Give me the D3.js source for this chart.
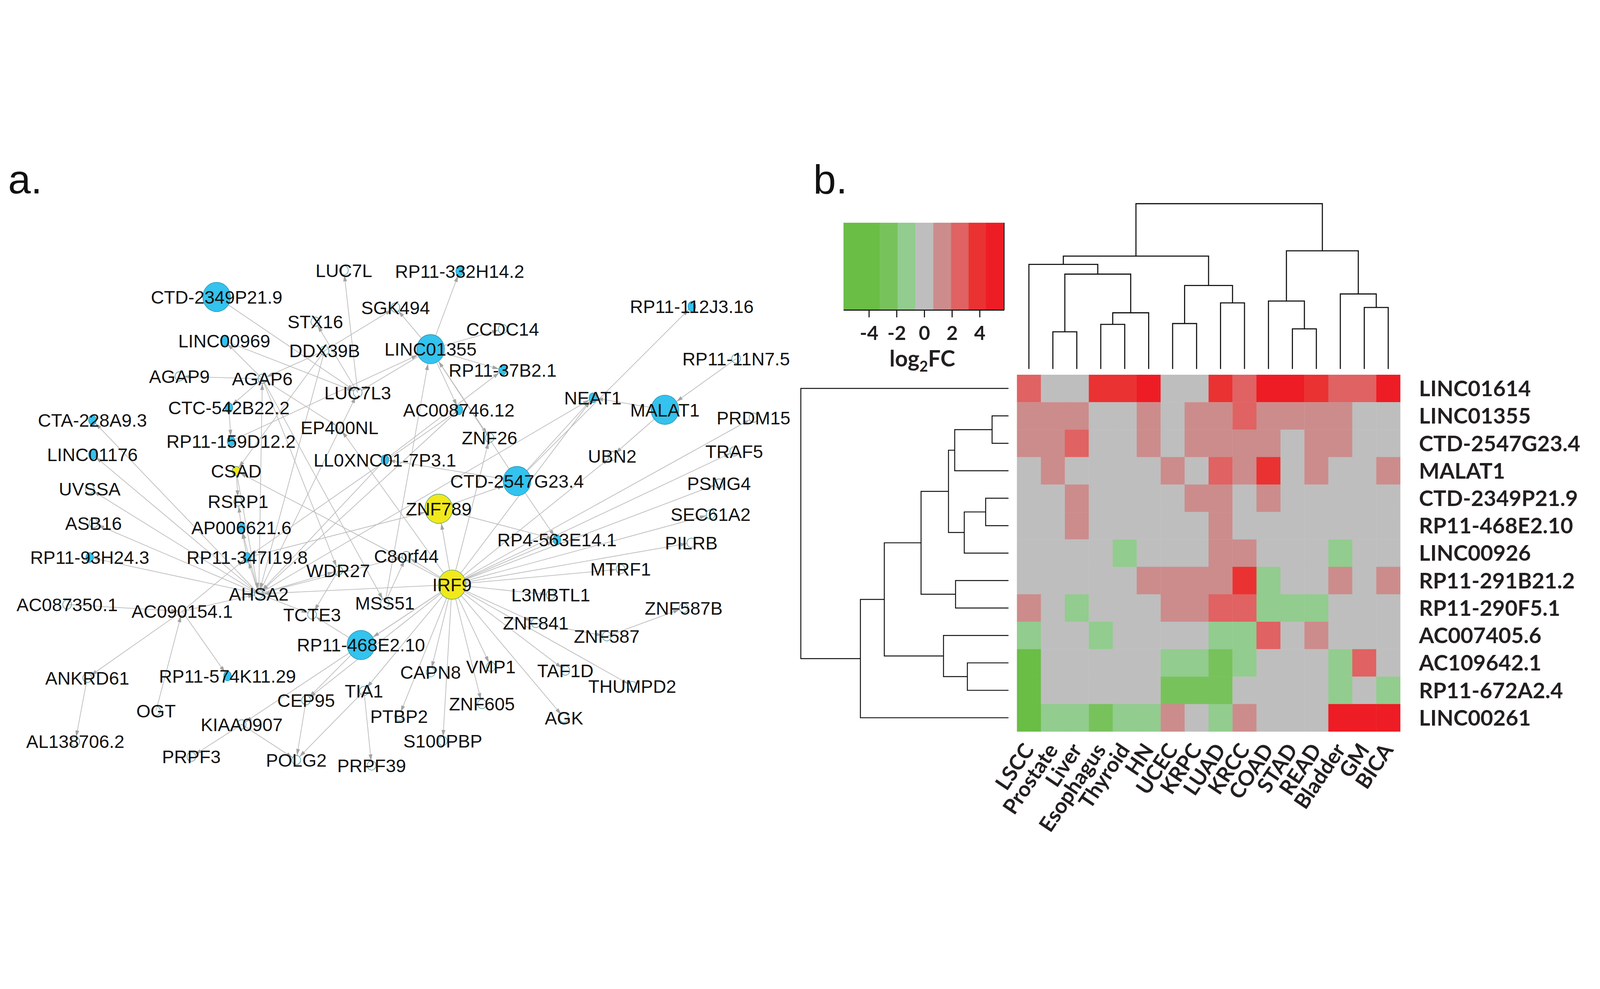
<!DOCTYPE html>
<html>
<head>
<meta charset="utf-8">
<script src="https://cdn.jsdelivr.net/npm/d3@7"></script>
<style>
  html, body { margin: 0; padding: 0; width: 100%; height: 100%; background: #fff; overflow: hidden; }
  svg { display: block; width: 100vw; height: 100vh; }
  .net text { font-family: "Liberation Sans", Arial, sans-serif; font-size: 67px; fill: #111; }
  .hm text { font-family: Lato, "Open Sans", sans-serif; font-weight: bold; fill: #231f20; }
  .panel { font-family: "Liberation Sans", Arial, sans-serif; font-size: 150px; fill: #111; }
</style>
</head>
<body>
<svg id="fig" viewBox="0 0 5886 2531" preserveAspectRatio="xMidYMid meet"></svg>
<script>
// ---------- panel a : co-expression network ----------
const bigLnc = ["CTD-2349P21.9", "LINC01355", "MALAT1", "CTD-2547G23.4", "RP11-468E2.10"];
const bigTf = ["ZNF789", "IRF9"];
const smallLnc = ["LINC00969", "CTC-542B22.2", "CTA-228A9.3", "RP11-159D12.2", "LINC01176", "LL0XNC01-7P3.1",
  "AP006621.6", "RP11-93H24.3", "RP11-347I19.8", "RP11-574K11.29", "RP11-332H14.2", "RP11-112J3.16",
  "RP11-37B2.1", "NEAT1", "AC008746.12", "RP4-563E14.1"];
const smallTf = ["CSAD"];

// layout coordinates (network layout units)
const nodeNames = ["CTD-2349P21.9", "LINC01355", "MALAT1", "CTD-2547G23.4", "RP11-468E2.10",
  "ZNF789", "IRF9",
  "LINC00969", "CTC-542B22.2", "CTA-228A9.3", "RP11-159D12.2", "LINC01176", "LL0XNC01-7P3.1", "AP006621.6",
  "RP11-93H24.3", "RP11-347I19.8", "RP11-574K11.29", "RP11-332H14.2", "RP11-112J3.16", "RP11-37B2.1", "NEAT1",
  "AC008746.12", "RP4-563E14.1",
  "CSAD",
  "LUC7L", "STX16", "SGK494", "DDX39B", "AGAP9", "AGAP6", "LUC7L3", "EP400NL", "CCDC14", "RP11-11N7.5",
  "PRDM15", "ZNF26", "UBN2", "TRAF5", "PSMG4", "SEC61A2", "PILRB", "C8orf44", "MTRF1", "L3MBTL1",
  "ZNF587B", "ZNF841", "ZNF587", "CAPN8", "VMP1", "TAF1D", "THUMPD2", "ZNF605", "UVSSA", "RSRP1",
  "ASB16", "WDR27", "AHSA2", "MSS51", "AC087350.1", "AC090154.1", "TCTE3", "ANKRD61", "TIA1", "CEP95",
  "OGT", "KIAA0907", "PTBP2", "S100PBP", "AGK", "AL138706.2", "PRPF3", "POLG2", "PRPF39"];
const nodeX = [79.7, 158.4, 244.6, 190.2, 132.8,
  161.4, 166.3,
  82.5, 84.2, 34.0, 85.0, 34.0, 141.6, 88.8, 33.0, 90.9, 83.7, 169.1, 254.5, 184.9, 218.1, 168.8, 204.9,
  86.9,
  126.5, 116.0, 145.5, 119.4, 66.0, 96.5, 131.6, 124.9, 184.9, 270.8,
  277.2, 180.1, 225.2, 270.1, 264.5, 261.4, 254.3, 149.5, 228.3, 202.6,
  251.5, 197.1, 223.2, 158.4, 180.6, 208.0, 232.6, 177.3, 33.0, 87.6,
  34.4, 124.4, 95.2, 141.6, 24.7, 67.0, 114.8, 32.1, 133.9, 112.6,
  57.4, 88.9, 146.8, 162.9, 207.5, 27.7, 70.4, 109.0, 136.7];
const nodeY = [53.9, 73.1, 95.4, 121.6, 181.9,
  131.8, 159.7,
  70.0, 94.6, 99.2, 106.9, 111.8, 113.8, 138.7, 149.7, 149.7, 193.3, 44.4, 57.4, 80.8, 91.0, 95.4, 143.2,
  117.9,
  44.1, 63.0, 57.8, 73.7, 83.1, 84.0, 89.1, 102.0, 65.7, 76.6,
  98.3, 105.7, 112.4, 110.7, 122.5, 133.9, 144.3, 149.2, 154.0, 163.5,
  168.3, 173.8, 178.7, 191.9, 189.9, 191.3, 197.0, 203.6, 124.5, 129.1,
  137.1, 154.6, 163.1, 166.5, 167.0, 169.5, 170.7, 194.0, 198.8, 202.2,
  206.1, 211.1, 208.1, 217.2, 208.7, 217.4, 223.0, 224.2, 226.2];

const edges = [
  ["AHSA2", "CTA-228A9.3"], ["AHSA2", "LINC01176"], ["AHSA2", "UVSSA"], ["AHSA2", "ASB16"],
  ["AHSA2", "RP11-93H24.3"], ["AC090154.1", "AHSA2"], ["AHSA2", "TCTE3"], ["AHSA2", "RP11-347I19.8"],
  ["AHSA2", "AP006621.6"], ["CSAD", "AHSA2"], ["AHSA2", "AGAP6"], ["LL0XNC01-7P3.1", "AHSA2"],
  ["DDX39B", "AHSA2"], ["AHSA2", "LUC7L3"], ["AHSA2", "WDR27"], ["AHSA2", "C8orf44"], ["IRF9", "AHSA2"],
  ["AHSA2", "NEAT1"], ["AC008746.12", "RP11-347I19.8"], ["AC008746.12", "AHSA2"],
  ["AC087350.1", "AC090154.1"], ["AC090154.1", "RP11-347I19.8"], ["AC090154.1", "ANKRD61"],
  ["OGT", "AC090154.1"], ["AC090154.1", "RP11-574K11.29"], ["ANKRD61", "AL138706.2"],
  ["WDR27", "TCTE3"], ["RP11-468E2.10", "TCTE3"], ["AGAP6", "WDR27"], ["AGAP6", "MSS51"],
  ["AGAP6", "EP400NL"], ["AGAP6", "LINC00969"], ["AGAP6", "AGAP9"], ["AGAP6", "CTC-542B22.2"],
  ["CTC-542B22.2", "RP11-159D12.2"], ["DDX39B", "AGAP6"], ["DDX39B", "SGK494"], ["DDX39B", "CSAD"],
  ["LUC7L3", "STX16"], ["LUC7L3", "LUC7L"], ["CTD-2349P21.9", "LUC7L3"], ["LINC00969", "LUC7L3"],
  ["LINC01355", "LUC7L3"], ["RP11-159D12.2", "LINC01355"], ["LINC01355", "SGK494"],
  ["LINC01355", "RP11-332H14.2"], ["LINC01355", "CCDC14"], ["LINC01355", "RP11-37B2.1"],
  ["LINC01355", "AC008746.12"], ["LINC01355", "ZNF26"], ["MSS51", "LINC01355"],
  ["CTD-2547G23.4", "LINC01355"], ["CSAD", "RSRP1"], ["AP006621.6", "RSRP1"],
  ["RP11-347I19.8", "AP006621.6"], ["IRF9", "CSAD"], ["IRF9", "EP400NL"],
  ["LL0XNC01-7P3.1", "RP11-37B2.1"], ["CTD-2547G23.4", "LL0XNC01-7P3.1"], ["CTD-2547G23.4", "NEAT1"],
  ["CTD-2547G23.4", "RP11-112J3.16"], ["CTD-2547G23.4", "RP4-563E14.1"], ["MALAT1", "NEAT1"],
  ["MALAT1", "UBN2"], ["RP11-11N7.5", "MALAT1"], ["IRF9", "ZNF789"], ["ZNF789", "RP4-563E14.1"],
  ["ZNF789", "CTD-2547G23.4"], ["RP11-347I19.8", "ZNF789"], ["IRF9", "ZNF26"], ["IRF9", "C8orf44"],
  ["MSS51", "C8orf44"], ["IRF9", "PSMG4"], ["IRF9", "SEC61A2"], ["IRF9", "PILRB"], ["IRF9", "MTRF1"],
  ["IRF9", "L3MBTL1"], ["IRF9", "ZNF841"], ["ZNF841", "ZNF587"], ["ZNF587", "ZNF587B"],
  ["IRF9", "TAF1D"], ["IRF9", "THUMPD2"], ["IRF9", "AGK"], ["IRF9", "ZNF605"], ["IRF9", "VMP1"],
  ["IRF9", "CAPN8"], ["IRF9", "PTBP2"], ["IRF9", "S100PBP"], ["IRF9", "TIA1"], ["IRF9", "CEP95"],
  ["IRF9", "KIAA0907"], ["IRF9", "UBN2"], ["IRF9", "PRDM15"], ["IRF9", "TRAF5"],
  ["IRF9", "RP4-563E14.1"], ["IRF9", "NEAT1"], ["IRF9", "RP11-468E2.10"], ["TIA1", "POLG2"],
  ["TIA1", "PRPF39"], ["CEP95", "POLG2"], ["RP11-468E2.10", "CEP95"], ["KIAA0907", "PRPF3"],
  ["KIAA0907", "POLG2"]
];

// ---------- panel b : heatmap ----------
const cancers = ["LSCC", "Prostate", "Liver", "Esophagus", "Thyroid", "HN", "UCEC", "KRPC", "LUAD",
  "KRCC", "COAD", "STAD", "READ", "Bladder", "GM", "BICA"];
const lncRNAs = ["LINC01614", "LINC01355", "CTD-2547G23.4", "MALAT1", "CTD-2349P21.9", "RP11-468E2.10",
  "LINC00926", "RP11-291B21.2", "RP11-290F5.1", "AC007405.6", "AC109642.1", "RP11-672A2.4", "LINC00261"];
const log2fc = [
  [2.6, 0, 0, 3.8, 3.8, 5.0, 0, 0, 3.8, 2.6, 5.0, 5.0, 3.8, 2.6, 2.6, 5.0],
  [1.3, 1.3, 1.3, 0, 0, 1.3, 0, 1.3, 1.3, 2.6, 1.3, 1.3, 1.3, 1.3, 0, 0],
  [1.3, 1.3, 2.6, 0, 0, 1.3, 0, 1.3, 1.3, 1.3, 1.3, 0, 1.3, 1.3, 0, 0],
  [0, 1.3, 0, 0, 0, 0, 1.3, 0, 2.6, 1.3, 3.8, 0, 1.3, 0, 0, 1.3],
  [0, 0, 1.3, 0, 0, 0, 0, 1.3, 1.3, 0, 1.3, 0, 0, 0, 0, 0],
  [0, 0, 1.3, 0, 0, 0, 0, 0, 1.3, 0, 0, 0, 0, 0, 0, 0],
  [0, 0, 0, 0, -1.3, 0, 0, 0, 1.3, 1.3, 0, 0, 0, -1.3, 0, 0],
  [0, 0, 0, 0, 0, 1.3, 1.3, 1.3, 1.3, 3.8, -1.3, 0, 0, 1.3, 0, 1.3],
  [1.3, 0, -1.3, 0, 0, 0, 1.3, 1.3, 2.6, 2.6, -1.3, -1.3, -1.3, 0, 0, 0],
  [-1.3, 0, 0, -1.3, 0, 0, 0, 0, -1.3, -1.3, 2.6, 0, 1.3, 0, 0, 0],
  [-4.8, 0, 0, 0, 0, 0, -1.3, -1.3, -2.6, -1.3, 0, 0, 0, -1.3, 2.6, 0],
  [-4.8, 0, 0, 0, 0, 0, -2.6, -2.6, -2.6, 0, 0, 0, 0, -1.3, 0, -1.3],
  [-4.8, -1.3, -1.3, -2.6, -1.3, -1.3, 1.3, 0, -1.3, 1.3, 0, 0, 0, 5.0, 5.0, 5.0]
];
// hierarchical clustering, hclust style: negative = leaf (1-based), positive = earlier merge step
const colMerge = [[-2, -3], [-12, -13], [-4, -5], [-7, -8], [3, -6], [-15, -16], [-9, -10], [-11, 2],
  [-14, 6], [4, 7], [1, 5], [-1, 11], [12, 10], [8, 9], [13, 14]];
const colHeight = [2.25, 2.43, 2.70, 2.75, 3.40, 3.72, 4.00, 4.11, 4.54, 5.05, 5.74, 6.33, 6.83, 7.15, 10];
const rowMerge = [[-2, -3], [-5, -6], [-11, -12], [2, -7], [-8, -9], [1, -4], [6, 4], [-10, 3], [7, 5],
  [9, 8], [10, -13], [-1, 11]];
const rowHeight = [0.79, 1.10, 1.98, 2.13, 2.55, 2.59, 2.89, 3.13, 4.21, 5.98, 7.13, 10];

const fcBreaks = [-3.23, -1.93, -0.65, 0.65, 1.93, 3.2, 4.45];
const fcColors = ["#6abd45", "#78c25c", "#92cc8e", "#bebebe", "#cc8c8c", "#e06262", "#ea3232", "#ee1c25"];
const fcTicks = [-4, -2, 0, 2, 4];
const fcRange = [-5.84, 5.77];

const svg = d3.select("#fig");

svg.append("text").attr("class", "panel").attr("x", 30).attr("y", 158).text("a.");
svg.append("text").attr("class", "panel").attr("x", 2992).attr("y", 158).text("b.");

// ---- network ----
const xNet = d3.scaleLinear().domain([0, 295]).range([0, 2950]);
const yNet = d3.scaleLinear().domain([0, 253]).range([0, 2530]);

const kindOf = n => bigLnc.includes(n) ? "bigLnc" : bigTf.includes(n) ? "bigTf"
  : smallLnc.includes(n) ? "lnc" : smallTf.includes(n) ? "tf" : "gene";
const nodeStyle = {
  bigLnc: { rx: 51, ry: 54, fill: "#33c3ee", stroke: "#2a8fb0" },
  bigTf:  { rx: 51, ry: 54, fill: "#f1e91b", stroke: "#4c9a78" },
  lnc:    { rx: 14, ry: 18, fill: "#33c3ee", stroke: "#2a8fb0" },
  tf:     { rx: 15, ry: 17, fill: "#f1e91b", stroke: "#4c9a78" },
  gene:   { rx: 16, ry: 17, fill: "none", stroke: "#3b8f96" }
};

const nodes = nodeNames.map((name, i) => ({ name, x: xNet(nodeX[i]), y: yNet(nodeY[i]), kind: kindOf(name) }));
const byName = new Map(nodes.map(d => [d.name, d]));
const links = edges.map(([s, t]) => ({ source: byName.get(s), target: byName.get(t) }));

svg.append("defs").append("marker")
  .attr("id", "arrow")
  .attr("markerUnits", "userSpaceOnUse")
  .attr("viewBox", "0 -8 24 16")
  .attr("refX", 24)
  .attr("refY", 0)
  .attr("markerWidth", 24)
  .attr("markerHeight", 16)
  .attr("orient", "auto")
  .append("path")
  .attr("d", "M0,-7L24,0L0,7Z")
  .attr("fill", "#a3a3a3");

const net = svg.append("g").attr("class", "net");

// stop each line on the border of its target node
function endPoint(d) {
  const s = d.source, t = d.target, st = nodeStyle[t.kind];
  const dx = t.x - s.x, dy = t.y - s.y, len = Math.hypot(dx, dy);
  const ux = dx / len, uy = dy / len;
  const r = 1 / Math.sqrt((ux / st.rx) ** 2 + (uy / st.ry) ** 2);
  return [t.x - ux * r, t.y - uy * r];
}

net.append("g").attr("class", "links")
  .selectAll("line")
  .data(links)
  .join("line")
  .attr("x1", d => d.source.x)
  .attr("y1", d => d.source.y)
  .attr("x2", d => endPoint(d)[0])
  .attr("y2", d => endPoint(d)[1])
  .attr("stroke", "#bcbcbc")
  .attr("stroke-width", 2.6)
  .attr("marker-end", "url(#arrow)");

net.append("g").attr("class", "nodes")
  .selectAll("ellipse")
  .data(nodes)
  .join("ellipse")
  .attr("cx", d => d.x)
  .attr("cy", d => d.y)
  .attr("rx", d => nodeStyle[d.kind].rx)
  .attr("ry", d => nodeStyle[d.kind].ry)
  .attr("fill", d => nodeStyle[d.kind].fill)
  .attr("stroke", d => nodeStyle[d.kind].stroke)
  .attr("stroke-width", 2);

net.append("g").attr("class", "labels")
  .selectAll("text")
  .data(nodes)
  .join("text")
  .attr("x", d => d.x)
  .attr("y", d => d.y)
  .attr("dy", "0.36em")
  .attr("text-anchor", "middle")
  .text(d => d.name);

// ---- heatmap ----
const hm = svg.append("g").attr("class", "hm");
const xCol = d3.scaleBand().domain(cancers).range([3741, 5151]);
const yRow = d3.scaleBand().domain(lncRNAs).range([825, 2137]);
const fill = d3.scaleThreshold().domain(fcBreaks).range(fcColors);

hm.append("g").selectAll("g")
  .data(log2fc)
  .join("g")
  .each(function (vals, r) {
    d3.select(this).selectAll("rect")
      .data(vals)
      .join("rect")
      .attr("x", (v, c) => xCol(cancers[c]))
      .attr("y", yRow(lncRNAs[r]))
      .attr("width", xCol.bandwidth() + 0.6)
      .attr("height", yRow.bandwidth() + 0.6)
      .attr("fill", v => fill(v));
  });

// dendrograms
function dendroPaths(merge, heights, leafPos, place) {
  const pos = [];
  const paths = [];
  const get = k => k < 0 ? { p: leafPos(-k - 1), h: 0 } : { p: pos[k - 1], h: heights[k - 1] };
  merge.forEach((m, i) => {
    const a = get(m[0]), b = get(m[1]), h = heights[i];
    pos.push((a.p + b.p) / 2);
    paths.push(place(a, b, h));
  });
  return paths;
}

const yColTree = d3.scaleLinear().domain([0, 10]).range([804, 196]);
const colPaths = dendroPaths(colMerge, colHeight,
  i => xCol(cancers[i]) + xCol.bandwidth() / 2,
  (a, b, h) => `M${a.p},${yColTree(a.h)}V${yColTree(h)}H${b.p}V${yColTree(b.h)}`);
hm.append("g").selectAll("path").data(colPaths).join("path")
  .attr("d", d => d).attr("fill", "none").attr("stroke", "#111").attr("stroke-width", 4);

const xRowTree = d3.scaleLinear().domain([0, 10]).range([3710, 2946]);
const rowPaths = dendroPaths(rowMerge, rowHeight,
  i => yRow(lncRNAs[i]) + yRow.bandwidth() / 2,
  (a, b, h) => `M${xRowTree(a.h)},${a.p}H${xRowTree(h)}V${b.p}H${xRowTree(b.h)}`);
hm.append("g").selectAll("path").data(rowPaths).join("path")
  .attr("d", d => d).attr("fill", "none").attr("stroke", "#111").attr("stroke-width", 3.5);

// row and column labels
hm.append("g").selectAll("text")
  .data(lncRNAs)
  .join("text")
  .attr("x", 5220)
  .attr("y", d => yRow(d) + yRow.bandwidth() / 2)
  .attr("dy", "0.36em")
  .attr("font-size", 80)
  .text(d => d);

hm.append("g").selectAll("text")
  .data(cancers)
  .join("text")
  .attr("transform", d => `translate(${xCol(d) + xCol.bandwidth() / 2 + 22},2205) rotate(-56)`)
  .attr("text-anchor", "end")
  .attr("font-size", 78)
  .text(d => d);

// colour key
const xLeg = d3.scaleLinear().domain(fcRange).range([3103, 3694]);
const bins = fcColors.map(c => {
  const [a, b] = fill.invertExtent(c);
  return { c, a: a ?? fcRange[0], b: b ?? fcRange[1] };
});
hm.append("g").selectAll("rect")
  .data(bins)
  .join("rect")
  .attr("x", d => xLeg(d.a))
  .attr("width", d => xLeg(d.b) - xLeg(d.a) + 0.5)
  .attr("y", 266)
  .attr("height", 321)
  .attr("fill", d => d.c);
hm.append("line")
  .attr("x1", xLeg(fcRange[1])).attr("x2", xLeg(fcRange[1]))
  .attr("y1", 266).attr("y2", 587)
  .attr("stroke", "#111").attr("stroke-width", 3);

const legAxis = hm.append("g")
  .attr("transform", "translate(0,587)")
  .call(d3.axisBottom(xLeg).tickValues(fcTicks).tickFormat(d => String(d))
    .tickSize(27).tickSizeOuter(0).tickPadding(32));
legAxis.attr("font-size", 72).attr("font-family", "Lato, 'Open Sans', sans-serif");
legAxis.select(".domain").attr("stroke", "#111").attr("stroke-width", 4);
legAxis.selectAll(".tick line").attr("stroke", "#111").attr("stroke-width", 4);
legAxis.selectAll(".tick text").attr("fill", "#231f20").attr("font-weight", "bold");

const keyTitle = hm.append("text")
  .attr("x", 3393)
  .attr("y", 795)
  .attr("text-anchor", "middle")
  .attr("font-size", 82);
keyTitle.append("tspan").text("log");
keyTitle.append("tspan").attr("font-size", 54).attr("dy", 18).text("2");
keyTitle.append("tspan").attr("dy", -18).text("FC");
</script>
</body>
</html>
